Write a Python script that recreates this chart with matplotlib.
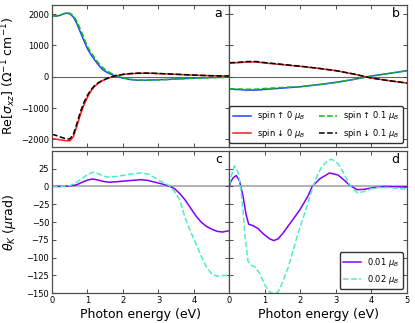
import numpy as np
import matplotlib
matplotlib.use("Agg")
import matplotlib.pyplot as plt

# panel a: Re[sigma_xz], 0 and 0.1 muB
ea = [0, 0.1, 0.2, 0.3, 0.4, 0.5, 0.6, 0.7, 0.8, 0.9, 1.0, 1.1, 1.2, 1.3, 1.4, 1.5,
      1.6, 1.7, 1.8, 2.0, 2.2, 2.4, 2.6, 2.8, 3.0, 3.25, 3.5, 4.0, 4.5, 5.0]
a_up0 = [1950, 1935, 1950, 1995, 2030, 2010, 1910, 1700, 1420, 1150, 890, 700, 540, 390, 255, 170,
         110, 60, 15, -45, -90, -110, -112, -105, -95, -88, -72, -45, -25, -15]
a_dn0 = [-1975, -1995, -2010, -2030, -2045, -2045, -1920, -1580, -1210, -900, -650, -450, -310, -210, -140, -85,
         -40, 0, 30, 70, 95, 108, 112, 110, 100, 88, 75, 50, 30, 18]
a_up01 = [1950, 1940, 1960, 2000, 2040, 2030, 1950, 1770, 1510, 1240, 960, 770, 600, 450, 320, 220,
          150, 90, 40, -25, -82, -105, -112, -108, -100, -90, -75, -48, -28, -18]
a_dn01 = [-1840, -1870, -1910, -1950, -1985, -1990, -1850, -1500, -1120, -820, -590, -410, -285, -195, -130, -80,
          -35, 5, 35, 75, 100, 112, 115, 112, 103, 90, 78, 52, 32, 20]

# panel b
eb = [0, 0.25, 0.5, 0.75, 1.0, 1.5, 2.0, 2.5, 3.0, 3.5, 4.0, 4.5, 5.0]
b_up0 = [-395, -410, -427, -427, -405, -363, -320, -256, -181, -85, 21, 107, 192]
b_dn0 = [437, 448, 470, 470, 437, 384, 330, 267, 192, 85, -43, -128, -203]
b_up01 = [-385, -392, -400, -398, -375, -345, -315, -255, -180, -85, 21, 107, 192]
b_dn01 = [445, 460, 485, 485, 450, 392, 335, 270, 194, 86, -43, -128, -203]

# panel c: Kerr angle
ec = [0, 0.25, 0.5, 0.7, 0.9, 1.0, 1.15, 1.3, 1.45, 1.6, 1.8, 2.0, 2.25, 2.5, 2.7,
      2.9, 3.1, 3.3, 3.45, 3.6, 3.75, 3.9, 4.05, 4.2, 4.35, 4.5, 4.65, 4.8, 5.0]
c_001 = [0, 0, 0.5, 2.5, 7, 9, 10.5, 9, 7, 6, 6.5, 7.5, 8.5, 9.5, 8.5,
         6, 3.5, 0.5, -3, -10, -19, -30, -41, -50, -56, -60, -63, -64, -62]
c_002 = [0, 0, 1, 6, 13, 17, 20, 18, 14.5, 13, 14, 15.5, 17.5, 19, 17.5,
         12, 6, 1.5, -7, -19, -44, -63, -80, -98, -113, -123, -126, -125, -125]

# panel d
ed1 = [0, 0.03, 0.1, 0.19, 0.28, 0.38, 0.47, 0.54, 0.66, 0.8, 0.94, 1.13, 1.25, 1.37, 1.5,
       1.74, 1.98, 2.21, 2.33, 2.54, 2.82, 3.06, 3.25, 3.4, 3.6, 3.8, 4.0, 4.2, 4.4, 4.6, 4.8, 5.0]
d_001 = [0, 6, 12, 15.4, 8, -13.5, -40, -53, -55, -59, -66, -73.5, -76, -73.5, -66,
         -49.5, -33, -13.5, 0, 10.6, 19, 16, 8, 1, -4.5, -4, -2, -1, 0, -0.5, -0.5, -1]
ed2 = [0, 0.05, 0.14, 0.24, 0.31, 0.38, 0.44, 0.52, 0.61, 0.72, 0.85, 0.99, 1.13, 1.25, 1.37, 1.5,
       1.65, 1.79, 1.93, 2.07, 2.21, 2.33, 2.45, 2.59, 2.78, 2.89, 3.06, 3.2, 3.4, 3.6, 3.8, 4.0,
       4.2, 4.5, 4.8, 5.0]
d_002 = [2, 14, 29, 20, 1, -33, -71, -105, -110.5, -113, -122, -138, -148, -151, -148, -134,
         -114, -90, -66, -45, -23, -4, 13, 27, 37, 38, 32, 20, 1, -9, -7, -3,
         -1.5, -1.5, -3, -4]

c_blue = '#2244ff'
c_red = '#ff1a1a'
c_green = '#11bb11'
c_purple = '#8000ff'
c_cyan = '#4cf0c0'

fig = plt.figure(figsize=(4.15, 3.23), dpi=100)
gs = fig.add_gridspec(2, 2, left=0.1253, right=0.9807, top=0.9854, bottom=0.092,
                      wspace=0, hspace=0.026)
axa = fig.add_subplot(gs[0, 0])
axb = fig.add_subplot(gs[0, 1])
axc = fig.add_subplot(gs[1, 0])
axd = fig.add_subplot(gs[1, 1])

lw = 1.1
axa.plot(ea, a_up0, color=c_blue, lw=lw)
axa.plot(ea, a_dn0, color=c_red, lw=lw)
axa.plot(ea, a_up01, color=c_green, lw=lw, ls='--')
axa.plot(ea, a_dn01, color='k', lw=lw, ls='--')

axb.plot(eb, b_up0, color=c_blue, lw=lw, label='spin \u2191 0 $\\mu_B$')
axb.plot(eb, b_dn0, color=c_red, lw=lw, label='spin \u2193 0 $\\mu_B$')
axb.plot(eb, b_up01, color=c_green, lw=lw, ls='--', label='spin \u2191 0.1 $\\mu_B$')
axb.plot(eb, b_dn01, color='k', lw=lw, ls='--', label='spin \u2193 0.1 $\\mu_B$')

axc.plot(ec, c_001, color=c_purple, lw=lw)
axc.plot(ec, c_002, color=c_cyan, lw=lw, ls='--')

axd.plot(ed1, d_001, color=c_purple, lw=lw, label=r'0.01 $\mu_B$')
axd.plot(ed2, d_002, color=c_cyan, lw=lw, ls='--', label=r'0.02 $\mu_B$')

for ax in (axa, axb):
    ax.axhline(0, color='0.4', lw=0.8, zorder=0)
    ax.set_ylim(-2250, 2300)
    ax.set_yticks([-2000, -1000, 0, 1000, 2000])
    ax.set_xticklabels([])
for ax in (axc, axd):
    ax.axhline(0, color='0.68', lw=1.3, zorder=0)
    ax.set_ylim(-150, 50)
    ax.set_yticks(np.arange(-150, 51, 25))
    ax.set_xlabel('Photon energy (eV)', fontsize=9, labelpad=2)

for ax in (axa, axb, axc, axd):
    ax.set_xlim(0, 5)
    ax.set_xticks([0, 1, 2, 3, 4, 5])
    ax.tick_params(direction='in', top=True, right=True, length=3, width=0.7,
                   color='0.3', labelsize=6, pad=2)
    for s in ax.spines.values():
        s.set_color('0.3')
        s.set_linewidth(0.9)

axa.set_yticklabels(['\u22122000', '\u22121000', '0', '1000', '2000'])
axc.set_yticklabels(['\u2212150', '\u2212125', '\u2212100', '\u221275', '\u221250', '\u221225', '0', '25', ''])
axc.set_xticklabels(['0', '1', '2', '3', '4', ''])
axb.set_yticklabels([])
axd.set_yticklabels([])

axa.set_ylabel(r'Re[$\sigma_{xz}$] ($\Omega^{-1}$ cm$^{-1}$)', fontsize=9)
axc.set_ylabel(r'$\theta_K$ ($\mu$rad)', fontsize=9)
axa.yaxis.set_label_coords(-0.19, 0.5)
axc.yaxis.set_label_coords(-0.19, 0.5)

for ax, t in zip((axa, axb, axc, axd), 'abcd'):
    ax.text(0.958, 0.916, t, transform=ax.transAxes, ha='right', va='baseline', fontsize=9)

lg = axb.legend(loc='lower right', ncol=2, fontsize=6, handlelength=2.2,
                columnspacing=1.6, handletextpad=0.7, borderaxespad=0.5, framealpha=1)
lg.get_frame().set_edgecolor('0.2')
lg = axd.legend(loc='lower right', fontsize=6, handlelength=2.2,
                handletextpad=0.7, borderaxespad=0.5, framealpha=1)
lg.get_frame().set_edgecolor('0.2')

plt.savefig('out.png', dpi=100)
